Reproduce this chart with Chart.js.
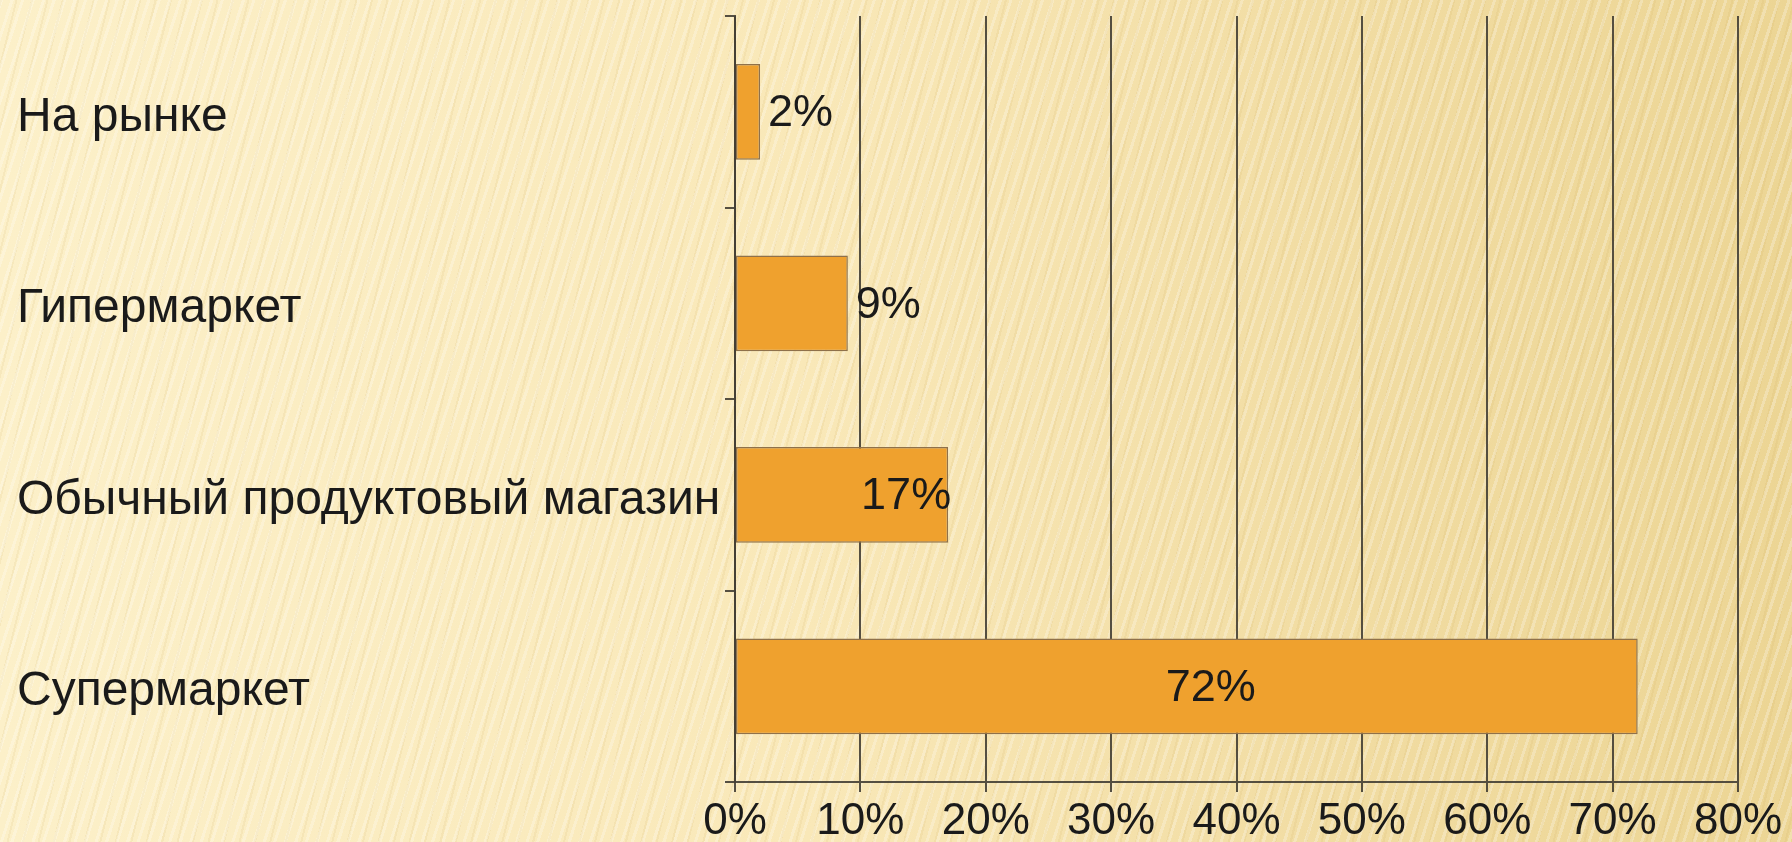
<!DOCTYPE html>
<html lang="ru">
<head>
<meta charset="utf-8">
<title>Где покупают</title>
<script src="https://cdn.jsdelivr.net/npm/chart.js@4/dist/chart.umd.min.js"></script>
<style>
  html, body {
    margin: 0;
    padding: 0;
    width: 1792px;
    height: 842px;
    overflow: hidden;
  }
  body {
    background:
      repeating-linear-gradient(108deg, rgba(255, 255, 255, 0.25) 0px, rgba(255, 255, 255, 0.25) 3px, rgba(255, 255, 255, 0) 3px, rgba(255, 255, 255, 0) 10px),
      repeating-linear-gradient(104deg, rgba(190, 150, 60, 0.09) 0px, rgba(190, 150, 60, 0.09) 2px, rgba(0, 0, 0, 0) 2px, rgba(0, 0, 0, 0) 15px),
      linear-gradient(90deg, #fcf0c9 0%, #f9e8b8 45%, #f1dca2 75%, #ecd594 100%);
  }
  #wrap {
    position: relative;
    width: 1792px;
    height: 842px;
  }
</style>
</head>
<body>
<div id="wrap"><canvas id="shopChart"></canvas></div>
<script>
// chart data
var categories = ['На рынке', 'Гипермаркет', 'Обычный продуктовый магазин', 'Супермаркет'];
var shares = [2, 9, 17, 72];
var labelPlacement = ['outside', 'outside', 'insideEnd', 'center'];
var axisMin = 0;
var axisMax = 80;
var axisStep = 10;

var gridColor = 'rgba(66, 62, 52, 0.9)';
var textColor = '#1a1a1a';
var fontFamily = '"Liberation Sans", Arial, sans-serif';

// draws the percent labels next to / inside the bars
var barLabels = {
  id: 'barLabels',
  afterDatasetsDraw: function (chart) {
    var ctx = chart.ctx;
    var meta = chart.getDatasetMeta(0);
    ctx.save();
    ctx.font = '45px ' + fontFamily;
    ctx.fillStyle = textColor;
    ctx.textBaseline = 'middle';
    meta.data.forEach(function (bar, i) {
      var text = shares[i] + '%';
      var mode = labelPlacement[i];
      if (mode === 'outside') {
        ctx.textAlign = 'left';
        ctx.fillText(text, bar.x + 8, bar.y + 2);
      } else if (mode === 'insideEnd') {
        ctx.textAlign = 'right';
        ctx.fillText(text, bar.x + 3, bar.y + 2);
      } else {
        ctx.textAlign = 'center';
        ctx.fillText(text, (bar.base + bar.x) / 2 + 24, bar.y + 2);
      }
    });
    ctx.restore();
  }
};

var canvas = document.getElementById('shopChart');

new Chart(canvas, {
  type: 'bar',
  data: {
    labels: categories,
    datasets: [
      {
        data: shares,
        backgroundColor: '#efa12e',
        borderColor: '#8f714a',
        borderWidth: 1.5,
        borderSkipped: false,
        categoryPercentage: 1,
        barPercentage: 0.5,
      },
    ],
  },
  options: {
    indexAxis: 'y',
    responsive: true,
    maintainAspectRatio: false,
    animation: false,
    layout: {
      padding: { left: 17, right: 54, top: 16, bottom: 0 },
    },
    plugins: {
      legend: { display: false },
      tooltip: { enabled: false },
    },
    scales: {
      x: {
        min: axisMin,
        max: axisMax,
        ticks: {
          stepSize: axisStep,
          padding: 3,
          color: textColor,
          font: { family: fontFamily, size: 44 },
          callback: function (v) { return v + '%'; },
        },
        grid: {
          color: gridColor,
          lineWidth: 2,
          tickLength: 10,
        },
        border: { display: true, color: gridColor, width: 2 },
        afterFit: function (scale) { scale.height = 60; },
      },
      y: {
        ticks: {
          crossAlign: 'far',
          labelOffset: 6,
          color: textColor,
          font: { family: fontFamily, size: 48 },
        },
        grid: {
          color: gridColor,
          lineWidth: 2,
          drawOnChartArea: false,
          tickLength: 10,
        },
        border: { display: true, color: gridColor, width: 2 },
        afterFit: function (scale) {
          scale.width = 718;
          scale.paddingTop = 0;
          scale.paddingBottom = 0;
        },
      },
    },
  },
  plugins: [barLabels],
});
</script>
</body>
</html>
